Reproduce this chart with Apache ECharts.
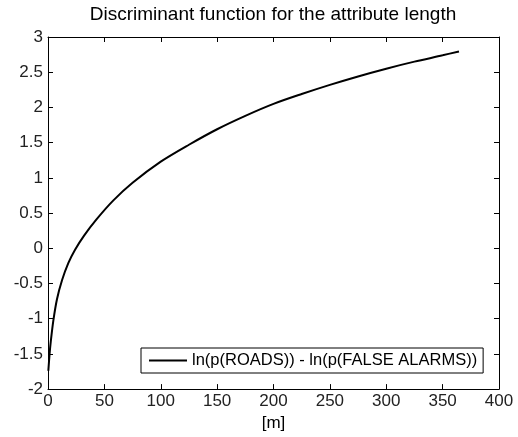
<!DOCTYPE html>
<html>
<head>
<meta charset="utf-8">
<script src="https://cdn.jsdelivr.net/npm/echarts@6/dist/echarts.min.js"></script>
<style>html,body{margin:0;padding:0;background:#fff}#c{width:518px;height:437px}</style>
</head>
<body>
<div id="c"></div>
<script>
const titleText = 'Discriminant function for the attribute length';
const seriesName = 'ln(p(ROADS)) - ln(p(FALSE ALARMS))';
const xName = '[m]';
const lengthValues = [0.3, 1.4, 2.5, 4.7, 8, 12.5, 18, 24, 32, 43, 58, 75, 100, 125, 150, 175, 200, 225, 250, 275, 300, 325, 350, 364.5];
const discValues = [-1.74, -1.5, -1.32, -1.03, -0.72, -0.45, -0.21, -0.02, 0.18, 0.41, 0.68, 0.93, 1.23, 1.47, 1.69, 1.88, 2.05, 2.19, 2.32, 2.44, 2.55, 2.65, 2.74, 2.795];

const FONT = "'Liberation Sans', Arial, Helvetica, sans-serif";
const chart = echarts.init(document.getElementById('c'), null, {renderer: 'canvas'});
const data = lengthValues.map((v, i) => [v, discValues[i]]);
function axisCommon() {
  return {
    axisLine: {show: true, onZero: false, lineStyle: {color: '#000', width: 1}},
    axisTick: {show: true, inside: true, length: 5, lineStyle: {color: '#000'}},
    splitLine: {show: false}
  };
}
chart.setOption({
  animation: false,
  backgroundColor: '#fff',
  title: {
    text: titleText, left: 273, top: 5, textAlign: 'center', padding: 0,
    textStyle: {fontFamily: FONT, fontSize: 19, fontWeight: 'normal', color: '#000'}
  },
  grid: {left: 48, top: 37, right: 19, bottom: 45, containLabel: false},
  legend: {
    data: [{name: seriesName, icon: 'rect'}],
    left: 141, top: 348, orient: 'horizontal',
    itemWidth: 38, itemHeight: 2, itemGap: 0,
    padding: [4, 6, 4, 8],
    borderColor: '#000', borderWidth: 1, backgroundColor: '#fff',
    textStyle: {fontFamily: FONT, fontSize: 16.5, color: '#000', lineHeight: 17}
  },
  xAxis: [
    Object.assign({
      type: 'value', position: 'bottom', min: 0, max: 400, interval: 50,
      name: xName, nameLocation: 'middle', nameGap: 22,
      nameTextStyle: {fontFamily: FONT, fontSize: 17, color: '#000'},
      axisLabel: {margin: 4, fontFamily: FONT, fontSize: 17, color: '#222'}
    }, axisCommon()),
    Object.assign({
      type: 'value', position: 'top', min: 0, max: 400, interval: 50,
      axisLabel: {show: false}
    }, axisCommon())
  ],
  yAxis: [
    Object.assign({
      type: 'value', position: 'left', min: -2, max: 3, interval: 0.5,
      axisLabel: {margin: 5, fontFamily: FONT, fontSize: 17, color: '#222'}
    }, axisCommon()),
    Object.assign({
      type: 'value', position: 'right', min: -2, max: 3, interval: 0.5,
      axisLabel: {show: false}
    }, axisCommon())
  ],
  series: [{
    name: seriesName, type: 'line', data: data, smooth: 0.3,
    showSymbol: false, symbol: 'none',
    lineStyle: {color: '#000', width: 2}, itemStyle: {color: '#000'}
  }]
});
</script>
</body>
</html>
